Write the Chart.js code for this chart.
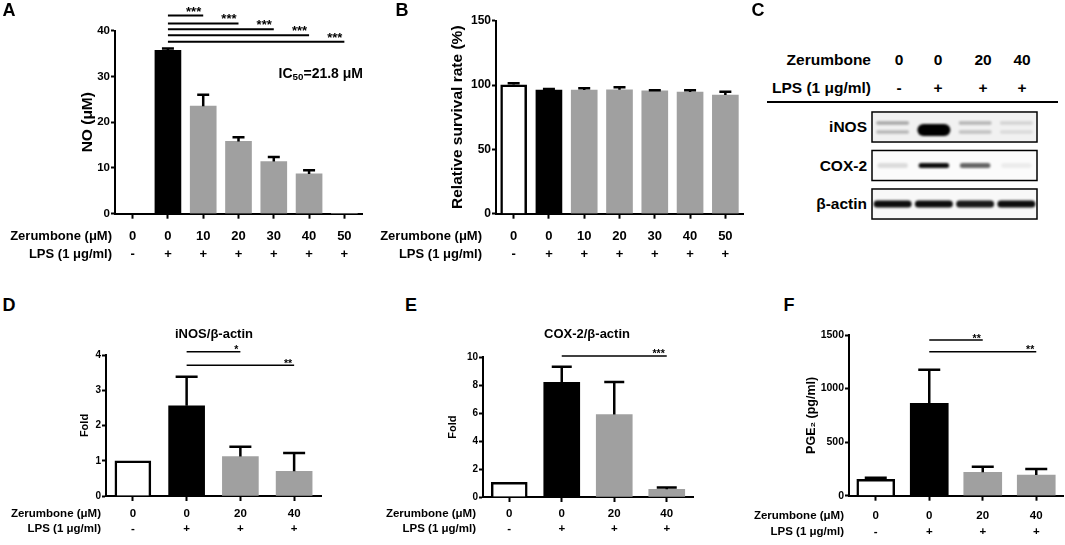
<!DOCTYPE html>
<html>
<head>
<meta charset="utf-8">
<script src="https://cdn.jsdelivr.net/npm/chart.js@4.4.0/dist/chart.umd.min.js"></script>
<style>
html, body { margin: 0; padding: 0; background: #fff; }
body { width: 1065px; height: 545px; position: relative; overflow: hidden;
       font-family: "Liberation Sans", Arial, sans-serif; font-weight: bold; color: #000; }
canvas { position: absolute; }
.t { position: absolute; white-space: nowrap; line-height: 1; transform: translate(-50%, -50%); }
.r { transform: translate(-100%, -50%); }
.t sub { font-size: 70%; vertical-align: -0.25em; line-height: 0; }
</style>
</head>
<body>
<canvas id="chA" width="368" height="275" style="left:0;top:0"></canvas>
<canvas id="chB" width="377" height="275" style="left:372px;top:0"></canvas>
<canvas id="chD" width="327" height="205" style="left:0;top:340px"></canvas>
<canvas id="chE" width="339" height="205" style="left:360px;top:340px"></canvas>
<canvas id="chF" width="325" height="225" style="left:740px;top:320px"></canvas>
<canvas id="chC" width="169" height="120" style="left:870px;top:106px"></canvas>
<div id="texts"></div>

<script>
// ---- data ----
const doseLong = ['0', '0', '10', '20', '30', '40', '50'];
const lpsLong = ['-', '+', '+', '+', '+', '+', '+'];
const doseShort = ['0', '0', '20', '40'];
const lpsShort = ['-', '+', '+', '+'];

// A: NO production (mean, mean + error)
const noMean = [0, 35.7, 23.5, 15.8, 11.4, 8.7, 0];
const noTop = [0, 36.1, 26.0, 16.7, 12.4, 9.5, 0];
// B: relative survival rate
const survMean = [100.2, 96.0, 96.1, 96.3, 95.4, 94.6, 92.2];
const survTop = [101.3, 96.9, 97.5, 98.2, 96.0, 96.0, 94.8];
// D: iNOS / beta-actin fold
const inosMean = [1.0, 2.56, 1.12, 0.70];
const inosTop = [1.0, 3.38, 1.40, 1.22];
// E: COX-2 / beta-actin fold
const coxMean = [1.05, 8.2, 5.9, 0.55];
const coxTop = [1.05, 9.32, 8.23, 0.68];
// F: PGE2
const pgeMean = [152, 862, 218, 193];
const pgeTop = [168, 1176, 271, 249];

// significance brackets: from group, to group, level (axis units), label
const sigA = { from: [1, 1, 1, 1, 1], to: [2, 3, 4, 5, 6], level: [43.3, 41.6, 40.3, 39.0, 37.6], mark: ['***', '***', '***', '***', '***'] };
const sigD = { from: [1, 1], to: [2, 3], level: [4.09, 3.71], mark: ['*', '**'] };
const sigE = { from: [1], to: [3], level: [10.1], mark: ['***'] };
const sigF = { from: [1, 1], to: [2, 3], level: [1453, 1344], mark: ['**', '**'] };

// C: western blot band intensities (0..1) per lane
const blotRows = ['iNOS', 'COX-2', 'β-actin'];
const blotDose = ['0', '0', '20', '40'];
const blotLps = ['-', '+', '+', '+'];
const inosBand = [0.3, 1.0, 0.25, 0.12];
const coxBand = [0.12, 0.95, 0.6, 0.06];
const actinBand = [0.95, 0.95, 0.9, 0.95];

const FONT = '"Liberation Sans", Arial, sans-serif';

// error bars, significance brackets and row headers
const extras = {
  id: 'extras',
  afterDatasetsDraw(chart, args, o) {
    const { ctx } = chart;
    const xs = chart.scales.x, ys = chart.scales.y;
    const meta = chart.getDatasetMeta(0);
    const mean = chart.data.datasets[0].data;
    ctx.save();
    ctx.strokeStyle = '#000';
    ctx.lineWidth = o.errW;
    o.top.forEach((v, i) => {
      if (v <= mean[i]) return;
      const cx = meta.data[i].x;
      const y0 = ys.getPixelForValue(mean[i]);
      const y1 = ys.getPixelForValue(v);
      ctx.beginPath();
      ctx.moveTo(cx, y0);
      ctx.lineTo(cx, y1);
      ctx.moveTo(cx - o.cap / 2, y1);
      ctx.lineTo(cx + o.cap / 2, y1);
      ctx.stroke();
    });
    // brackets
    ctx.lineWidth = o.sigW;
    ctx.fillStyle = '#000';
    ctx.font = 'bold ' + o.starSize + 'px ' + FONT;
    ctx.textAlign = 'right';
    ctx.textBaseline = 'alphabetic';
    o.sig.from.forEach((f, k) => {
      const xa = xs.getPixelForValue(f), xb = xs.getPixelForValue(o.sig.to[k]);
      const y = ys.getPixelForValue(o.sig.level[k]);
      ctx.beginPath();
      ctx.moveTo(xa, y);
      ctx.lineTo(xb, y);
      ctx.stroke();
      ctx.fillText(o.sig.mark[k], xb - 2, y + o.starDy);
    });
    ctx.restore();
  },
  afterDraw(chart, args, o) {
    const { ctx } = chart;
    const xs = chart.scales.x;
    ctx.save();
    ctx.fillStyle = '#000';
    ctx.font = 'bold ' + o.rowFont + 'px ' + FONT;
    ctx.textAlign = 'right';
    ctx.textBaseline = 'middle';
    const y0 = xs.top + 5 + o.rowPad + o.rowGap / 2;
    o.rows.forEach((r, i) => ctx.fillText(r, chart.chartArea.left - o.headGap, y0 + i * o.rowGap));
    ctx.restore();
  }
};

function barPanel(id, p) {
  const fill = p.mean.map((v, i) => i === 0 ? '#ffffff' : i === 1 ? '#000000' : '#a0a0a0');
  const bw = p.mean.map((v, i) => i === 0 ? 2.5 : 0);
  const labels = p.dose.map((d, i) => [d, p.lps[i]]);
  const cv = document.getElementById(id);
  const cLeft = parseFloat(cv.style.left) || 0;
  const cTop = parseFloat(cv.style.top) || 0;
  const hx = cTop + cv.height - p.bottom;
  return new Chart(cv, {
    type: 'bar',
    data: {
      labels: labels,
      datasets: [{ data: p.mean, backgroundColor: fill, borderColor: '#000', borderWidth: bw,
                   borderSkipped: 'start', barThickness: p.barW }]
    },
    plugins: [extras],
    options: {
      responsive: false,
      animation: false,
      events: [],
      layout: { padding: { left: 0, top: p.padTop, right: p.padRight, bottom: 0 } },
      plugins: {
        legend: { display: false },
        tooltip: { enabled: false },
        extras: {
          top: p.top, cap: p.cap, errW: 2.5, sig: p.sig, sigW: p.sigW, starSize: p.starSize, starDy: p.starDy,
          rows: ['Zerumbone (μM)', 'LPS (1 μg/ml)'], rowFont: p.xFont, rowGap: p.rowGap, rowPad: p.rowPad, headGap: p.headGap
        }
      },
      scales: {
        x: {
          offset: true,
          grid: { offset: false, drawOnChartArea: false, drawTicks: true, tickLength: 5, tickWidth: 2, tickColor: '#000' },
          border: { display: true, color: '#000', width: 2 },
          ticks: { color: '#000', autoSkip: false, maxRotation: 0, padding: p.rowPad,
                   font: { family: FONT, weight: 'bold', size: p.xFont, lineHeight: p.rowGap + 'px' } },
          afterFit: s => { s.height = hx; }
        },
        y: {
          min: 0, max: p.max,
          grid: { drawOnChartArea: false, drawTicks: true, tickLength: 4, tickWidth: 2, tickColor: '#000' },
          border: { display: true, color: '#000', width: 2 },
          ticks: { stepSize: p.step, color: '#000', padding: 1, callback: v => String(v),
                   font: { family: FONT, weight: 'bold', size: p.yFont } },
          title: { display: true, text: p.title, color: '#000',
                   font: { family: FONT, weight: 'bold', size: p.titleSize },
                   padding: { top: p.titleX - cLeft - p.titleSize * 0.6, bottom: 0 } },
          afterFit: s => { s.width = p.left - cLeft; }
        }
      }
    }
  });
}

barPanel('chA', { dose: doseLong, lps: lpsLong, mean: noMean, top: noTop, sig: sigA,
  max: 40, step: 10, title: 'NO (μM)', titleSize: 15.5, titleX: 88,
  left: 115, padTop: 30.7, padRight: 6, bottom: 213.7,
  barW: 26, cap: 12, sigW: 2, starSize: 13, starDy: 0,
  xFont: 13, yFont: 11.5, rowGap: 18.5, rowPad: 8, headGap: 3 });

barPanel('chB', { dose: doseLong, lps: lpsLong, mean: survMean, top: survTop, sig: { from: [], to: [], level: [], mark: [] },
  max: 150, step: 50, title: 'Relative survival rate (%)', titleSize: 15.5, titleX: 458,
  left: 496, padTop: 20.7, padRight: 6, bottom: 213.7,
  barW: 26, cap: 12, sigW: 2, starSize: 13, starDy: 0,
  xFont: 13, yFont: 12, rowGap: 18.5, rowPad: 8, headGap: 14 });

barPanel('chD', { dose: doseShort, lps: lpsShort, mean: inosMean, top: inosTop, sig: sigD,
  max: 4, step: 1, title: 'Fold', titleSize: 11, titleX: 85,
  left: 106, padTop: 15, padRight: 6, bottom: 496,
  barW: 36, cap: 22, sigW: 1.5, starSize: 10.5, starDy: 1.5,
  xFont: 11.5, yFont: 10, rowGap: 15, rowPad: 5.5, headGap: 5 });

barPanel('chE', { dose: doseShort, lps: lpsShort, mean: coxMean, top: coxTop, sig: sigE,
  max: 10, step: 2, title: 'Fold', titleSize: 11, titleX: 453,
  left: 483, padTop: 17.3, padRight: 6, bottom: 497,
  barW: 36, cap: 20, sigW: 1.5, starSize: 10.5, starDy: 1.5,
  xFont: 11.5, yFont: 10, rowGap: 15, rowPad: 4.5, headGap: 7 });

barPanel('chF', { dose: doseShort, lps: lpsShort, mean: pgeMean, top: pgeTop, sig: sigF,
  max: 1500, step: 500, title: 'PGE₂ (pg/ml)', titleSize: 12.5, titleX: 812,
  left: 849, padTop: 15, padRight: 2, bottom: 495.7,
  barW: 38, cap: 22, sigW: 1.5, starSize: 10.5, starDy: 1.5,
  xFont: 11.5, yFont: 10.5, rowGap: 16, rowPad: 7.3, headGap: 5 });

// ---- C: blot, lanes on x, rows on y ----
function band(ctx, cx, cy, w, h, a) {
  ctx.save();
  ctx.filter = 'blur(1.2px)';
  ctx.fillStyle = 'rgba(0,0,0,' + a + ')';
  ctx.beginPath();
  ctx.roundRect(cx - w / 2, cy - h / 2, w, h, h / 2);
  ctx.fill();
  ctx.restore();
}

const blotPlugin = {
  id: 'blot',
  beforeDatasetsDraw(chart, args, o) {
    const { ctx, scales: { x, y } } = chart;
    blotRows.forEach((r, ri) => {
      const t = y.getPixelForValue(ri - o.half), b = y.getPixelForValue(ri + o.half);
      ctx.fillStyle = o.tint[ri];
      ctx.fillRect(x.left, t, x.right - x.left, b - t);
    });
  },
  afterDatasetsDraw(chart, args, o) {
    const { ctx, scales: { x, y } } = chart;
    const meta = chart.getDatasetMeta(0);
    const lane = x.getPixelForValue(1) - x.getPixelForValue(0);
    chart.data.datasets[0].data.forEach((p, i) => {
      const el = meta.data[i];
      if (p.y === 0) {
        if (p.v > 0.6) band(ctx, el.x, el.y + 3, lane * 0.8, 12, p.v);
        else {
          band(ctx, el.x, el.y - 4, lane * 0.8, 3.5, p.v);
          band(ctx, el.x, el.y + 5, lane * 0.8, 3.5, p.v * 0.8);
        }
      } else if (p.y === 1) {
        band(ctx, el.x, el.y, lane * 0.74, 5, p.v);
      } else {
        band(ctx, el.x, el.y, lane * 0.92, 7, p.v);
      }
    });
    ctx.save();
    ctx.strokeStyle = '#000';
    ctx.lineWidth = 1.5;
    blotRows.forEach((r, ri) => {
      const t = y.getPixelForValue(ri - o.half), b = y.getPixelForValue(ri + o.half);
      ctx.strokeRect(x.left, t, x.right - x.left, b - t);
    });
    ctx.restore();
  }
};

const blotPoints = [];
[inosBand, coxBand, actinBand].forEach((row, ri) => row.forEach((v, li) => blotPoints.push({ x: li, y: ri, v: v })));

new Chart(document.getElementById('chC'), {
  type: 'scatter',
  data: { datasets: [{ data: blotPoints, pointRadius: 0 }] },
  plugins: [blotPlugin],
  options: {
    responsive: false,
    animation: false,
    events: [],
    layout: { padding: { left: 2, right: 2, top: 1.75, bottom: 2.75 } },
    plugins: { legend: { display: false }, tooltip: { enabled: false },
               blot: { half: 0.39, tint: ['#f1f1f1', '#fbfbfb', '#f8f8f8'] } },
    scales: {
      x: { type: 'linear', min: -0.5, max: 3.5, display: false },
      y: { type: 'linear', min: -0.5, max: 2.5, reverse: true, display: false }
    }
  }
});

// ---- text ----
const texts = document.getElementById('texts');
function txt(html, x, y, size, right) {
  const d = document.createElement('div');
  d.className = right ? 't r' : 't';
  d.style.left = x + 'px';
  d.style.top = y + 'px';
  d.style.fontSize = size + 'px';
  d.innerHTML = html;
  texts.appendChild(d);
}
txt('A', 9, 10, 18); txt('B', 402, 10, 18); txt('C', 758, 10, 18);
txt('D', 9, 305, 18); txt('E', 411, 305, 18); txt('F', 789, 305, 18);
txt('IC<sub>50</sub>=21.8 μM', 363, 73, 14, true);
txt('iNOS/β-actin', 214, 333, 13);
txt('COX-2/β-actin', 587, 333, 13);

const blotX = [899, 938, 983, 1022];
txt('Zerumbone', 871, 60, 15.5, true);
txt('LPS (1 μg/ml)', 871, 88, 15.5, true);
blotDose.forEach((d, i) => txt(d, blotX[i], 60, 15.5));
blotLps.forEach((d, i) => txt(d, blotX[i], 88, 15.5));
blotRows.forEach((r, i) => txt(r, 867, 127 + i * 38.5, 15.5, true));
const rule = document.createElement('div');
rule.style.cssText = 'position:absolute;left:767px;top:101px;width:291px;height:1.5px;background:#000';
texts.appendChild(rule);
</script>
</body>
</html>
